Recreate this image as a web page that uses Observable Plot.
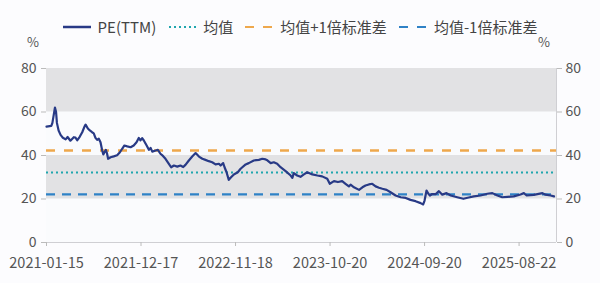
<!DOCTYPE html>
<html><head><meta charset="utf-8">
<script src="https://cdn.jsdelivr.net/npm/d3@7"></script>
<script src="https://cdn.jsdelivr.net/npm/@observablehq/plot@0.6"></script>
<style>
html,body{margin:0;padding:0;background:#fcfcfe;}
#wrap{position:relative;width:600px;height:283px;font-family:"Noto Sans CJK SC","Noto Sans",sans-serif;color:#555;}
#legend{position:absolute;top:16px;left:0;width:600px;display:flex;justify-content:center;align-items:center;font-size:15px;color:#444;}
#legend .it{display:flex;align-items:center;margin:0 6px;}
#legend svg{margin-right:7px;}
.pct{position:absolute;top:32px;font-size:13px;color:#555;}
</style></head>
<body><div id="wrap">
<div id="legend"></div>
<span class="pct" style="left:27px">%</span>
<span class="pct" style="left:538px">%</span>
<div id="chart"></div>
</div>
<script>
const dates = ["2021-01-15","2021-02-01","2021-02-05","2021-02-14","2021-02-18","2021-02-21","2021-02-27","2021-03-06","2021-03-13","2021-03-24","2021-03-31","2021-04-10","2021-04-22","2021-04-28","2021-05-04","2021-05-13","2021-05-22","2021-05-30","2021-06-03","2021-06-11","2021-06-18","2021-06-26","2021-07-02","2021-07-08","2021-07-14","2021-07-20","2021-07-26","2021-08-01","2021-08-05","2021-08-09","2021-08-14","2021-08-18","2021-08-22","2021-08-31","2021-09-11","2021-09-23","2021-10-03","2021-10-11","2021-10-19","2021-10-29","2021-11-10","2021-11-21","2021-12-01","2021-12-09","2021-12-15","2021-12-21","2021-12-27","2022-01-06","2022-01-14","2022-01-20","2022-01-26","2022-02-07","2022-02-15","2022-02-24","2022-03-05","2022-03-14","2022-03-26","2022-04-03","2022-04-13","2022-04-25","2022-05-06","2022-05-16","2022-05-24","2022-06-05","2022-06-17","2022-06-29","2022-07-11","2022-07-23","2022-08-03","2022-08-15","2022-08-27","2022-09-08","2022-09-20","2022-09-26","2022-10-05","2022-10-10","2022-10-17","2022-10-25","2022-11-02","2022-11-12","2022-11-26","2022-12-06","2022-12-24","2023-01-04","2023-01-22","2023-02-09","2023-02-21","2023-03-05","2023-03-11","2023-03-23","2023-04-03","2023-04-15","2023-04-27","2023-05-15","2023-06-02","2023-06-08","2023-06-13","2023-06-25","2023-07-07","2023-07-19","2023-07-31","2023-08-18","2023-09-05","2023-09-22","2023-10-10","2023-10-19","2023-11-03","2023-11-17","2023-12-02","2023-12-14","2023-12-26","2024-01-01","2024-01-13","2024-01-31","2024-02-12","2024-02-23","2024-03-06","2024-03-18","2024-03-30","2024-04-11","2024-04-23","2024-05-08","2024-05-22","2024-06-09","2024-06-27","2024-07-15","2024-08-01","2024-08-19","2024-09-06","2024-09-15","2024-09-20","2024-09-27","2024-10-03","2024-10-09","2024-10-17","2024-10-29","2024-11-10","2024-11-22","2024-12-07","2024-12-22","2025-01-14","2025-02-05","2025-02-24","2025-03-14","2025-04-07","2025-05-01","2025-05-19","2025-06-06","2025-06-23","2025-07-12","2025-08-03","2025-08-27","2025-09-08","2025-09-18","2025-10-13","2025-11-13","2025-11-24","2025-12-12","2025-12-24"];
const pe = [53.3,53.6,55,62,60,55,51.5,49.5,48.3,47.4,48.5,46.8,48.4,48.2,47,48.6,50.7,53.3,54.2,52.4,51.5,50.7,50.2,48.1,47.2,47.7,46.1,42.3,40.5,41.5,42.6,41,38.5,39.2,39.6,40.1,41.5,43.1,44.6,44.2,43.8,44.6,46.1,48.1,47,48,46.9,44.6,42.6,43.5,41.8,42.3,42.6,40.8,39.8,38.5,36.2,34.6,35.4,34.9,35.4,34.7,35.7,37.7,39.5,41.1,39.5,38.5,38,37.4,36.9,35.9,36.2,35.4,36.5,34.6,32.3,28.8,30,31.3,32.3,33.9,35.9,36.5,37.7,38,38.5,38.2,37.8,36.5,36.9,36.2,34.6,32.8,30.8,29.7,31.9,30.8,30.2,31.3,32.3,31.3,30.8,30.4,29.3,27,28.2,27.8,28.2,27,25.8,26.6,25.4,24.2,25.4,26.2,26.7,27,25.8,25.2,24.7,24.2,23.1,21.6,20.8,20.5,19.6,19,18.1,17.5,19.3,23.9,22.5,21.6,22.3,22.2,23.6,22,22.7,21.6,20.8,20.1,20.7,21.2,21.6,22.4,22.7,21.6,20.8,21,21.2,22.1,22.7,21.6,21.9,22.7,22,21.6,21.2];
const meanValue = 32.2;
const plusStd = 42.3;
const minusStd = 22.1;
const tickLabels = ["2021-01-15","2021-12-17","2022-11-18","2023-10-20","2024-09-20","2025-08-22"];
const yTicks = [0,20,40,60,80];
const bandLows = [0,20,40,60];
const bandHighs = [20,40,60,80];
const bandFills = ["#fafbfd","#e2e2e4","#fafbfd","#e2e2e4"];
const domainStart = "2021-01-15", domainEnd = "2026-01-02";
const seriesNames = ["PE(TTM)","均值","均值+1倍标准差","均值-1倍标准差"];

const parse = d3.utcParse("%Y-%m-%d");
const data = dates.map((d,i)=>({date: parse(d), v: pe[i]}));
const x0 = parse(domainStart), x1 = parse(domainEnd);
const bands = bandLows.map((lo,i)=>({x1:x0,x2:x1,y1:lo,y2:bandHighs[i],fill:bandFills[i]}));
const C = {pe:"#283a86", mean:"#1fa6ae", plus:"#eea84c", minus:"#2f82c6"};

const chart = Plot.plot({
  width: 600, height: 283,
  marginTop: 68, marginBottom: 41, marginLeft: 46, marginRight: 44,
  style: {background:"transparent", fontSize:"14px", fontFamily:'"Noto Sans CJK SC","Noto Sans",sans-serif', color:"#555"},
  x: {type:"utc", domain:[x0,x1]},
  y: {domain:[0,80]},
  marks: [
    Plot.rect(bands, {x1:"x1", x2:"x2", y1:"y1", y2:"y2", fill:"fill"}),
    Plot.ruleY([plusStd], {stroke:C.plus, strokeWidth:2.5, strokeDasharray:"9,9"}),
    Plot.ruleY([meanValue], {stroke:C.mean, strokeWidth:2, strokeDasharray:"2,3"}),
    Plot.ruleY([minusStd], {stroke:C.minus, strokeWidth:2.2, strokeDasharray:"9,7"}),
    Plot.line(data, {x:"date", y:"v", stroke:C.pe, strokeWidth:2.2}),
    Plot.ruleY([0], {stroke:"#cfcfd3"}),
    Plot.ruleX([x1], {stroke:"#cfcfd3"}),
    Plot.axisY({anchor:"left", ticks:yTicks, label:null, tickSize:5, tickPadding:5, stroke:"#bbb"}),
    Plot.axisY({anchor:"right", ticks:yTicks, label:null, tickSize:5, tickPadding:4, stroke:"#bbb"}),
    Plot.axisX({ticks: tickLabels.map(parse), tickFormat: d3.utcFormat("%Y-%m-%d"), label:null, tickSize:4, tickPadding:11, stroke:"#bbb", fontSize:14.5})
  ]
});
document.getElementById("chart").appendChild(chart);

// legend
const legend = document.getElementById("legend");
const sw = [
  `<line x1="0" y1="5" x2="28" y2="5" stroke="${C.pe}" stroke-width="2.5"/>`,
  `<line x1="1" y1="5" x2="28" y2="5" stroke="${C.mean}" stroke-width="2" stroke-dasharray="2,3"/>`,
  `<line x1="0" y1="5" x2="28" y2="5" stroke="${C.plus}" stroke-width="2" stroke-dasharray="9,9"/>`,
  `<line x1="0" y1="5" x2="28" y2="5" stroke="${C.minus}" stroke-width="2" stroke-dasharray="9,9"/>`
];
seriesNames.forEach((n,i)=>{
  const it = document.createElement("div"); it.className="it";
  it.innerHTML = `<svg width="28" height="10">${sw[i]}</svg><span>${n}</span>`;
  legend.appendChild(it);
});
</script>
</body></html>
